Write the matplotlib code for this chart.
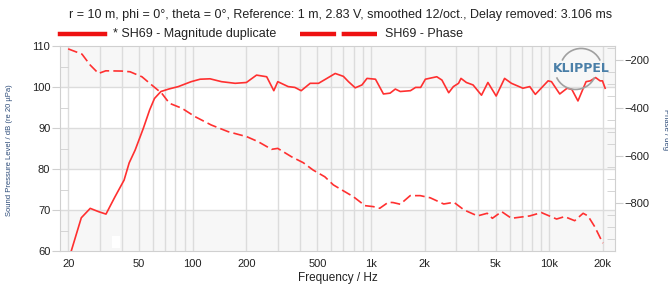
import numpy as np
import matplotlib
matplotlib.use("Agg")
import matplotlib.pyplot as plt
from matplotlib.lines import Line2D
from matplotlib.patches import Arc, Rectangle
from matplotlib.ticker import FixedLocator, NullFormatter

plt.rcParams['font.family'] = ['Liberation Sans Narrow', 'Liberation Sans', 'DejaVu Sans']
plt.rcParams['lines.scale_dashes'] = False

# magnitude (dB)
mag_f = [20, 23.7, 26.6, 29.6, 32.6, 36.6, 41.2, 44.0, 47.5, 52.8, 57.3, 61, 66.3, 73.3, 83,
         98, 110, 125, 145, 173, 200, 228, 260, 285, 300, 343, 374, 406, 456, 508, 566, 630,
         700, 748, 816, 890, 950, 1060, 1175, 1280, 1370, 1460, 1665, 1780, 1900, 2020, 2340,
         2500, 2730, 2900, 3100, 3200, 3430, 3740, 4170, 4530, 5040, 5620, 6140, 7120, 7780,
         8360, 9860, 10300, 11460, 12600, 13400, 14500, 16100, 17000, 18220, 19300, 19900, 20600]
mag_db = [57.5, 68.1, 70.4, 69.6, 69.0, 73.2, 77.3, 81.5, 84.6, 89.9, 94.4, 97.2, 98.9, 99.5, 100.1,
          101.3, 101.9, 102.0, 101.3, 100.9, 101.1, 102.9, 102.5, 99.1, 101.3, 100.1, 99.9, 99.1, 100.9, 100.9, 102.1, 103.3,
          102.6, 101.3, 99.8, 100.5, 102.1, 101.9, 98.3, 98.5, 99.5, 98.9, 99.1, 99.9, 99.9, 101.9, 102.5,
          101.7, 98.6, 100.1, 100.9, 102.1, 101.1, 100.5, 98.0, 101.1, 97.8, 102.1, 100.9, 99.7, 100.1,
          98.2, 101.5, 101.3, 98.3, 99.7, 99.4, 96.6, 101.3, 101.5, 102.3, 101.5, 101.5, 99.7]

# phase (deg)
ph_f = [20, 23.9, 26.6, 29.6, 32.5, 40, 44.5, 51.9, 59, 67, 74, 87, 103, 127, 158, 201, 233, 277,
        300, 358, 417, 474, 551, 615, 686, 795, 926, 1030, 1120, 1250, 1330, 1460, 1660, 1890, 2150,
        2560, 2920, 3330, 3960, 4490, 4800, 5410, 6140, 7780, 9040, 11000, 12200, 13900, 15500,
        16500, 18000, 20000]
ph_deg = [-153, -175, -221, -256, -245, -246, -249, -270, -305, -339, -381, -402, -437, -472, -500, -521, -542, -574,
          -570, -605, -630, -661, -689, -723, -744, -772, -810, -814, -821, -796, -797, -804, -768, -768, -777,
          -803, -796, -828, -853, -842, -863, -835, -863, -853, -839, -866, -856, -873, -842,
          -853, -898, -967]

xticks = [20, 50, 100, 200, 500, 1000, 2000, 5000, 10000, 20000]
xticklabels = ['20', '50', '100', '200', '500', '1k', '2k', '5k', '10k', '20k']

title = "r = 10 m, phi = 0°, theta = 0°, Reference: 1 m, 2.83 V, smoothed 12/oct., Delay removed: 3.106 ms"
labels = ['* SH69 - Magnitude duplicate', 'SH69 - Phase']

W, H = 668, 293
fig = plt.figure(figsize=(6.68, 2.93), dpi=100)
ax = fig.add_axes([60/W, 1-251/H, 555/W, 205/H])
ax.set_xscale('log')
ax.set_xlim(18, 23400)
ax.set_ylim(60, 110)

# horizontal bands
for lo in [60, 80, 100]:
    ax.axhspan(lo, lo+10, color='#f7f7f7', zorder=0, lw=0)
ax.add_patch(Rectangle((0.094, 0.015), 0.014, 0.06, transform=ax.transAxes, color='white', zorder=0.5, lw=0))

grid_f = [f*m for f in [10, 100, 1000, 10000] for m in range(1, 10) if 18 <= f*m <= 23400]
for f in grid_f:
    ax.axvline(f, color='#dcdcdc', lw=1.0, zorder=1)
for y in range(70, 110, 10):
    ax.axhline(y, color='#dcdcdc', lw=1.0, zorder=1)

ax.set_xticks(xticks)
ax.set_xticklabels(xticklabels)
ax.xaxis.set_minor_locator(FixedLocator([100, 1000, 10000]))
ax.xaxis.set_minor_formatter(NullFormatter())
ax.tick_params(axis='x', which='major', length=0, pad=6, labelsize=8, colors='#222222')
ax.tick_params(axis='x', which='minor', length=5, color='#dcdcdc', width=1.2)
ax.set_yticks(range(60, 111, 10))
ax.yaxis.set_minor_locator(FixedLocator(range(65, 110, 10)))
ax.tick_params(axis='y', which='major', length=6, color='#cfcfcf', labelsize=8, labelcolor='#222222', pad=1)
ax.tick_params(axis='y', which='minor', direction='in', length=6, color='#cfcfcf')
for s in ax.spines.values():
    s.set_color('#d0d0d0')

ax.plot(mag_f, mag_db, color='#ff3030', lw=1.2, zorder=3)

ax2 = ax.twinx()
ax2.set_ylim(-1000, -141)
ax2.plot(ph_f, ph_deg, color='#ff3030', lw=1.2, dashes=(7, 3), zorder=3)
ax2.set_yticks([-200, -400, -600, -800])
ax2.yaxis.set_minor_locator(FixedLocator(range(-950, -140, 50)))
ax2.tick_params(axis='y', which='major', length=6, color='#cfcfcf', labelsize=8, labelcolor='#222222', pad=1)
ax2.tick_params(axis='y', which='minor', direction='in', length=6, color='#cfcfcf')
for s in ax2.spines.values():
    s.set_visible(False)

ax.set_xlabel('Frequency / Hz', fontsize=8.5, color='#222222', labelpad=2)
fig.text(10/W, 1-150/H, 'Sound Pressure Level / dB (re 20 µPa)', rotation=90, fontsize=5.5,
         color='#2b4a78', ha='center', va='center')
fig.text(666/W, 1-130/H, 'Phase / deg', rotation=270, fontsize=5.5, color='#2b4a78',
         ha='center', va='center')
fig.text(341/W, 1-15/H, title, fontsize=9, color='#222222', ha='center', va='center')

# logo
lx, ly = 0.939, 0.888
ax.text(lx, ly, 'KLIPPEL', transform=ax.transAxes, fontsize=9, fontweight='bold',
        color='#4a7fa8', ha='center', va='center', family='DejaVu Sans', zorder=4)
ax.add_patch(Arc((lx, ly), 0.075, 0.2, theta1=50, theta2=130, transform=ax.transAxes,
                 color='#a0a0a0', lw=1.2, zorder=4))
ax.add_patch(Arc((lx - 0.01, ly), 0.075, 0.2, theta1=230, theta2=310, transform=ax.transAxes,
                 color='#a0a0a0', lw=1.2, zorder=4))

# legend drawn by hand: solid sample, dashed sample with two long dashes
ly_fig = 1 - 34/H
fig.add_artist(Line2D([60/W, 105/W], [ly_fig, ly_fig], color='#ee1111', lw=3.2))
fig.text(113/W, ly_fig, labels[0], fontsize=9, color='#222222', va='center', ha='left')
fig.add_artist(Line2D([300/W, 377/W], [ly_fig, ly_fig], color='#ee1111', lw=3.2,
                      dashes=(26, 4)))
fig.text(385/W, ly_fig, labels[1], fontsize=9, color='#222222', va='center', ha='left')

fig.savefig('out.png', dpi=100)
